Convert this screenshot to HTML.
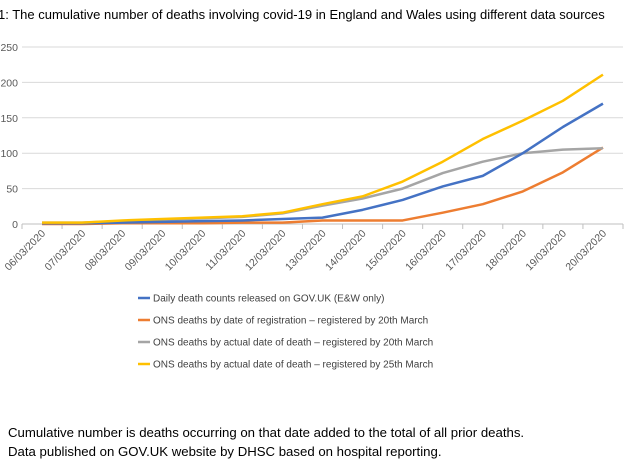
<!DOCTYPE html>
<html><head><meta charset="utf-8"><style>
body{margin:0;background:#fff;font-family:"Liberation Sans",Calibri,sans-serif;}
svg{display:block}
</style></head><body>
<svg width="630" height="470" xmlns="http://www.w3.org/2000/svg">
<text x="-2" y="19" font-size="13" fill="#000">1: The cumulative number of deaths involving covid-19 in England and Wales using different data sources</text>
<g id="grid"></g><g id="xl"></g><g id="lines"></g><g id="legend"></g>
<text x="8" y="437" font-size="13.2" fill="#000">Cumulative number is deaths occurring on that date added to the total of all prior deaths.</text>
<text x="8" y="456" font-size="13.2" fill="#000">Data published on GOV.UK website by DHSC based on hospital reporting.</text>
</svg>
<script>
const categories=["06/03/2020","07/03/2020","08/03/2020","09/03/2020","10/03/2020","11/03/2020","12/03/2020","13/03/2020","14/03/2020","15/03/2020","16/03/2020","17/03/2020","18/03/2020","19/03/2020","20/03/2020"];
const yTicks=[0,50,100,150,200,250];
const seriesNames=["Daily death counts released on GOV.UK (E&W only)","ONS deaths by date of registration – registered by 20th March","ONS deaths by actual date of death – registered by 20th March","ONS deaths by actual date of death – registered by 25th March"];
const blue=[1,1,2,3,4,5,7,9,20,34,53,68,100,137,170];
const orange=[0,0,1,1,1,2,2,5,5,5,16,28,46,73,108];
const gray=[2,2,4,6,8,10,15,26,36,50,72,88,100,105,107];
const yellow=[2,2,5,7,9,11,16,28,39,60,88,120,146,174,211];
const NS="http://www.w3.org/2000/svg";
const L=22,R=623,Y0=224,Y250=47;
const bw=(R-L)/categories.length;
const x=i=>L+bw*(i+0.5);
const y=v=>Y0-(v/250)*(Y0-Y250);
function mk(t,a,p){const e=document.createElementNS(NS,t);for(const k in a)e.setAttribute(k,a[k]);p.appendChild(e);return e;}
const grid=document.getElementById('grid');
yTicks.forEach(t=>{
 const l=mk('line',{x1:L,x2:R,y1:y(t),y2:y(t),stroke:t?'#d9d9d9':'#bfbfbf','stroke-width':1},grid);
 
 
 const tx=mk('text',{x:L-4,y:y(t)+4,'font-size':10.5,fill:'#595959','text-anchor':'end'},grid);
 tx.textContent=t;
 
 
});
const xl=document.getElementById('xl');
for(let i=0;i<=categories.length;i++){
 const tk=mk('line',{x1:L+bw*i,x2:L+bw*i,y1:Y0,y2:Y0+5,stroke:'#bfbfbf'},xl);
 
 
}
categories.forEach((c,i)=>{
 const t=mk('text',{x:x(i)+4,y:Y0+10,'font-size':10.5,fill:'#595959','text-anchor':'end',transform:`rotate(-45 ${x(i)+4} ${Y0+10})`},xl);
 t.textContent=c;
 
 
});
const colors=['#4472c4','#ed7d31','#a5a5a5','#ffc000'];
const data=[blue,orange,gray,yellow];
const lines=document.getElementById('lines');
[1,2,0,3].forEach(s=>{
 const p=mk('polyline',{points:data[s].map((v,i)=>x(i)+','+y(v)).join(' '),fill:'none',stroke:colors[s],'stroke-width':2.5,'stroke-linejoin':'round'},lines);
 
 
});
const lg=document.getElementById('legend');
seriesNames.forEach((n,s)=>{
 const yy=298+s*22;
 const l=mk('line',{x1:138,x2:150,y1:yy,y2:yy,stroke:colors[s],'stroke-width':2.5},lg);
 
 
 const t=mk('text',{x:153,y:yy+3.5,'font-size':10,fill:'#404040'},lg);
 t.textContent=n;
 
 
});
</script>
</body></html>
